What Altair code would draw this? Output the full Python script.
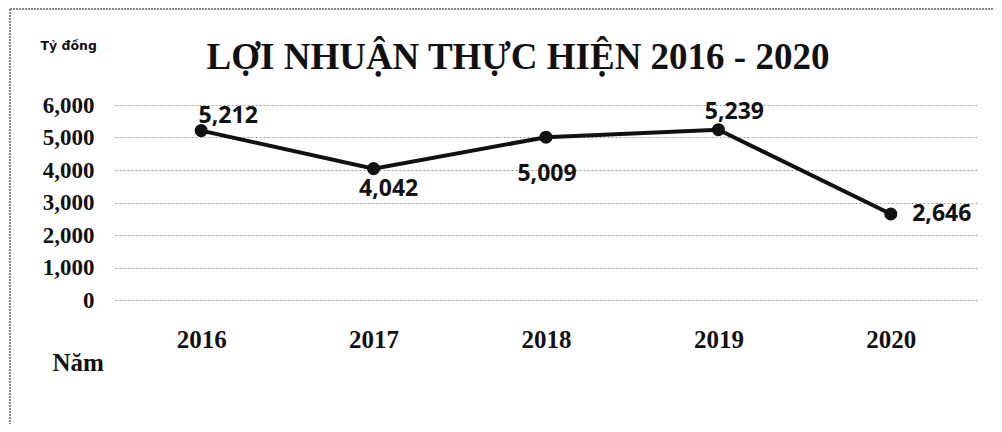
import altair as alt
import pandas as pd

years = ["2016", "2017", "2018", "2019", "2020"]
profits = [5212, 4042, 5009, 5239, 2646]
y_ticks = [0, 1000, 2000, 3000, 4000, 5000, 6000]
title_text = "LỢI NHUẬN THỰC HIỆN 2016 - 2020"
y_unit = "Tỷ đồng"
x_unit = "Năm"

df = pd.DataFrame({"year": years, "profit": profits})

SERIF = "Liberation Serif"
SANS = "Open Sans"

x_enc = alt.X(
    "year:N",
    sort=years,
    scale=alt.Scale(type="point", padding=0.5),
    axis=alt.Axis(
        title=x_unit, titleX=-63, titleY=62, titleAlign="left", titleBaseline="middle",
        titleFont=SERIF, titleFontSize=25, titleFontWeight="bold", titleColor="#111",
        labelFont=SERIF, labelFontSize=25, labelFontWeight="bold", labelColor="#111",
        labelPadding=27, ticks=False, domain=False, grid=False, labelAngle=0,
    ),
)
y_enc = alt.Y(
    "profit:Q",
    scale=alt.Scale(domain=[0, 6000]),
    axis=alt.Axis(
        values=y_ticks,
        labelExpr="format(datum.value, ',')",
        title=y_unit, titleX=-75, titleY=-60, titleAngle=0, titleAlign="left",
        titleBaseline="middle", titleFont="DejaVu Sans", titleFontSize=12.5,
        titleFontWeight="bold", titleColor="#111",
        labelFont=SERIF, labelFontSize=23, labelFontWeight="bold", labelColor="#111",
        labelPadding=21, ticks=False, domain=False,
        grid=True, gridColor="#9a9a9a", gridDash=[2, 2], gridWidth=1,
    ),
)

base = alt.Chart(df)
line = base.mark_line(color="#111", strokeWidth=4).encode(x=x_enc, y=y_enc)
pts = base.mark_point(filled=True, color="#111", size=170, opacity=1).encode(x=x_enc, y=y_enc)

placements = {
    "2016": (27, -15),
    "2017": (15, 20),
    "2018": (1, 37),
    "2019": (16, -18),
    "2020": (51, 0),
}
label_layers = []
for yr, (dx, dy) in placements.items():
    label_layers.append(
        base.transform_filter(alt.datum.year == yr)
        .mark_text(font=SANS, fontSize=23, fontWeight="bold", color="#111",
                   dx=dx, dy=dy, baseline="middle", align="center")
        .encode(x=x_enc, y=y_enc, text=alt.Text("profit:Q", format=","))
    )

title_layer = alt.Chart(pd.DataFrame({"t": [title_text]})).mark_text(
    font=SERIF, fontSize=37, fontWeight="bold", color="#111", baseline="middle", align="center"
).encode(x=alt.value(403), y=alt.value(-47), text="t:N")

frame_left = alt.Chart(pd.DataFrame({"a": [0]})).mark_rule(
    color="#888", strokeDash=[2, 1], strokeWidth=2
).encode(x=alt.value(-105), y=alt.value(-96), y2=alt.value(330))
frame_top = alt.Chart(pd.DataFrame({"a": [0]})).mark_rule(
    color="#888", strokeDash=[2, 1], strokeWidth=2
).encode(x=alt.value(-105), x2=alt.value(900), y=alt.value(-96))

chart = alt.layer(frame_left, frame_top, line, pts, *label_layers, title_layer).properties(
    width=862, height=195,
    autosize=alt.AutoSizeParams(type="none"),
    padding={"left": 107, "top": 97, "right": 17, "bottom": 124},
).configure(background="white").configure_view(stroke=None)

chart.save("out.html", embed_options={"renderer": "svg", "actions": False})
